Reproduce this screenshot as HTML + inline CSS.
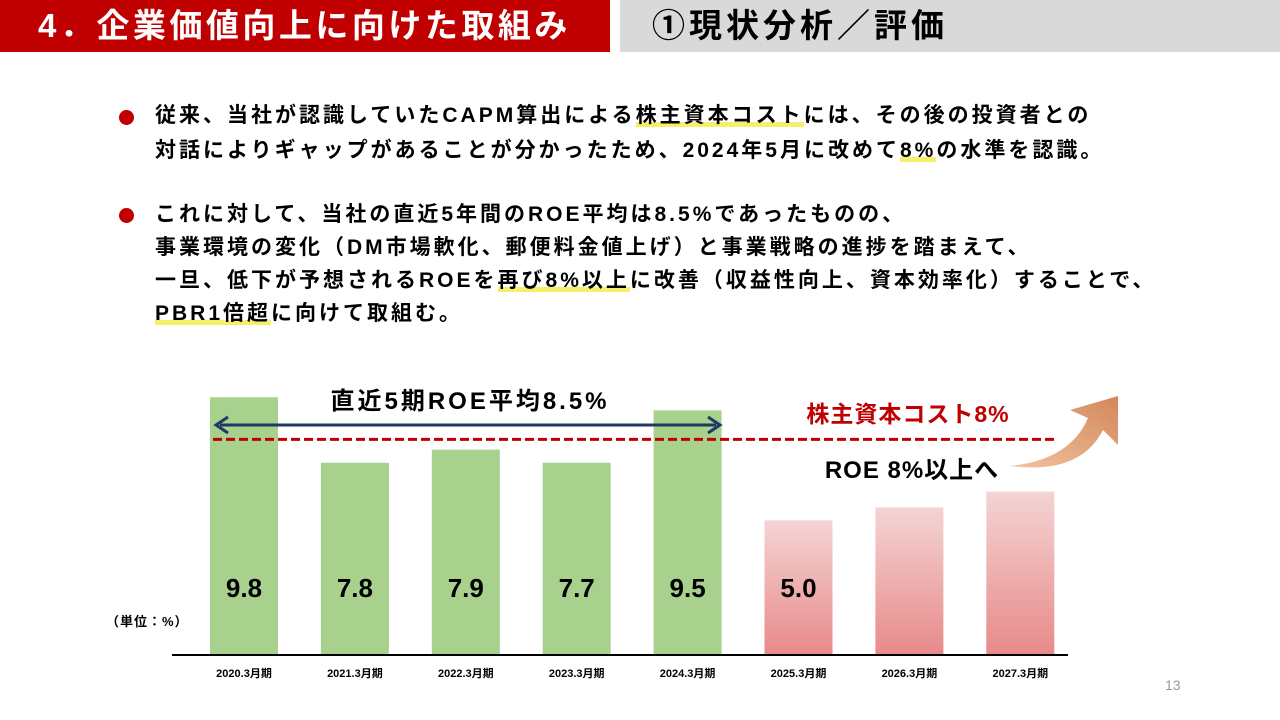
<!DOCTYPE html>
<html><head><meta charset="utf-8"><style>
body{margin:0;width:1280px;height:720px;background:#fff;position:relative;overflow:hidden;font-family:"Liberation Sans","Noto Sans CJK JP",sans-serif}
.abs{position:absolute}
.t{position:absolute;left:155px;font-size:21px;font-weight:bold;color:#000;white-space:nowrap;line-height:30px;letter-spacing:3px}
.hl{background:linear-gradient(transparent 78%,#f5f06a 78%)}
.bul{position:absolute;left:119px;width:15px;height:15px;border-radius:50%;background:#c00000}
</style></head><body>
<div class="abs" style="left:0;top:0;width:610px;height:52px;background:#c00000;color:#fff;font-size:33px;font-weight:bold;line-height:52px;padding-left:38px;box-sizing:border-box;letter-spacing:3.5px">4．企業価値向上に向けた取組み</div>
<div class="abs" style="left:620px;top:0;width:660px;height:52px;background:#d9d9d9;color:#000;font-size:33px;font-weight:bold;line-height:52px;padding-left:32px;box-sizing:border-box;letter-spacing:4px">①現状分析／評価</div>
<div class="bul" style="top:110px"></div>
<div class="t" style="top:101px">従来、当社が認識していたCAPM算出による<span class="hl">株主資本コスト</span>には、その後の投資者との</div>
<div class="t" style="top:136px">対話によりギャップがあることが分かったため、2024年5月に改めて<span class="hl">8%</span>の水準を認識。</div>
<div class="bul" style="top:208px"></div>
<div class="t" style="top:200px">これに対して、当社の直近5年間のROE平均は8.5%であったものの、</div>
<div class="t" style="top:233px">事業環境の変化（DM市場軟化、郵便料金値上げ）と事業戦略の進捗を踏まえて、</div>
<div class="t" style="top:266px">一旦、低下が予想されるROEを<span class="hl">再び8%以上</span>に改善（収益性向上、資本効率化）することで、</div>
<div class="t" style="top:299px"><span class="hl">PBR1倍超</span>に向けて取組む。</div>
<div class="abs" style="left:106px;top:611px;font-size:13px;font-weight:bold;letter-spacing:1px">（単位：%）</div>
<div class="abs" style="left:1165px;top:677px;font-size:14px;color:#999">13</div>
<svg id="chart" class="abs" style="left:0;top:0" width="1280" height="720">
<defs><linearGradient id="pg" x1="0" y1="0" x2="0" y2="1"><stop offset="0" stop-color="#f4d4d4"/><stop offset="1" stop-color="#e88a8a"/></linearGradient>
<linearGradient id="ag" x1="0" y1="1" x2="1" y2="0"><stop offset="0" stop-color="#f0c4a0"/><stop offset="1" stop-color="#d4875a"/></linearGradient></defs>
</svg>
<script>
const categories=["2020.3月期","2021.3月期","2022.3月期","2023.3月期","2024.3月期","2025.3月期","2026.3月期","2027.3月期"];
const roeValues=[9.8,7.3,7.8,7.3,9.3,5.1,5.6,6.2];
const valueLabels=["9.8","7.8","7.9","7.7","9.5","5.0","",""];
const isForecast=[false,false,false,false,false,true,true,true];
const costOfEquity=8;
const svg=document.getElementById('chart');
const NS='http://www.w3.org/2000/svg';
const base=654,scale=26.2,x0=244,step=110.9,bw=68;
const xs=i=>x0+i*step, ys=v=>base-v*scale;
function mk(t,a){const e=document.createElementNS(NS,t);for(const k in a)e.setAttribute(k,a[k]);svg.appendChild(e);return e;}
categories.forEach((c,i)=>{
 const r=mk('rect',{x:xs(i)-bw/2,y:ys(roeValues[i]),width:bw,height:roeValues[i]*scale,fill:isForecast[i]?'url(#pg)':'#a9d18e'});
 
 
 const t=mk('text',{x:xs(i),y:677,'font-size':11,'font-weight':'bold','text-anchor':'middle'});t.textContent=c;
 
 
 if(valueLabels[i]){const v=mk('text',{x:xs(i),y:597,'font-size':26,'font-weight':'bold','text-anchor':'middle'});v.textContent=valueLabels[i];
 
 }
});
const ax=mk('line',{x1:172,x2:1068,y1:base+1,y2:base+1,stroke:'#000','stroke-width':2});


const cl=mk('line',{x1:213,x2:1055,y1:ys(costOfEquity)-5,y2:ys(costOfEquity)-5,stroke:'#c00000','stroke-width':3,'stroke-dasharray':'9,4'});


const ar=mk('path',{d:'M220 425 L716 425 M228 417 L216 425 L228 433 M708 417 L720 425 L708 433',stroke:'#1f3864','stroke-width':3,fill:'none'});


const up=mk('path',{d:'M1010 466 Q1070 460 1088 418 L1070 410 L1118 396 L1118 445 L1103 430 Q1080 475 1010 466 Z',fill:'url(#ag)'});


const l1=mk('text',{x:470,y:409,'font-size':24,'font-weight':'bold','text-anchor':'middle','letter-spacing':3});l1.textContent='直近5期ROE平均8.5%';


const l2=mk('text',{x:908,y:422,'font-size':23,'font-weight':'bold',fill:'#c00000','text-anchor':'middle','letter-spacing':1});l2.textContent='株主資本コスト8%';


const l3=mk('text',{x:912,y:478,'font-size':24,'font-weight':'bold','text-anchor':'middle','letter-spacing':1});l3.textContent='ROE 8%以上へ';


</script>
</body></html>
